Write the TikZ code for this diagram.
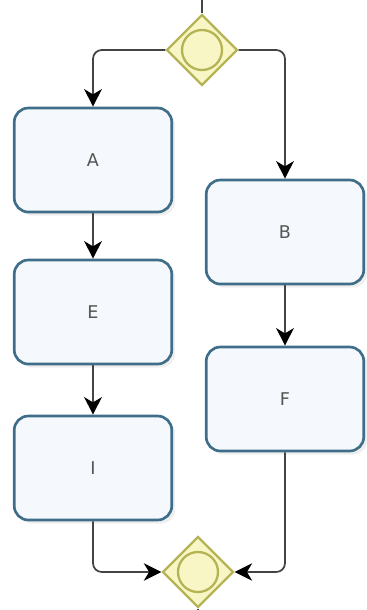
\documentclass[tikz,border=0pt]{standalone}
\usepackage{fontspec}
\setmainfont{DejaVu Sans}
\usetikzlibrary{shapes.geometric,arrows.meta,shadows}
\definecolor{taskline}{HTML}{3E6E8A}
\definecolor{taskfill}{HTML}{F5F8FC}
\definecolor{gateline}{HTML}{B5B455}
\definecolor{gatefill}{HTML}{F8F6C4}
\definecolor{flowline}{HTML}{444444}
\definecolor{labeltext}{HTML}{555555}
\tikzset{
  taskbox/.style={rectangle, rounded corners=8pt, draw=taskline, line width=1.5pt,
    fill=taskfill, minimum width=3.15cm, minimum height=2.08cm,
    text=labeltext, font=\fontsize{10}{11}\selectfont,
    drop shadow={opacity=0.12, shadow xshift=2pt, shadow yshift=-2pt}},
  gateway/.style={diamond, aspect=1, draw=gateline, line width=1.3pt, fill=gatefill,
    minimum width=1.42cm, minimum height=1.42cm, inner sep=0pt},
  gatering/.style={circle, draw=gateline, line width=1.3pt, minimum size=0.8cm, inner sep=0pt},
  flow/.style={draw=flowline, line width=1pt, rounded corners=5pt,
    -{Stealth[length=10pt,width=10pt,inset=3pt,black]}},
  plainflow/.style={draw=flowline, line width=1pt}
}
\begin{document}
\begin{tikzpicture}[x=0.02cm,y=-0.02cm]
\useasboundingbox[fill=white] (0,0) rectangle (367,610);

% exclusive gateways
\node[gateway] (g1) at (202,50) {};
\node[gatering] (r1) at (g1.center) {};
\node[gateway] (g2) at (198,572) {};
\node[gatering] (r2) at (g2.center) {};

% tasks
\node[taskbox] (A) at (93,160) {A};
\node[taskbox] (E) at (93,312) {E};
\node[taskbox] (I) at (93,468) {I};
\node[taskbox] (B) at (285,232) {B};
\node[taskbox] (F) at (285,399) {F};

% loose ends of the incoming and outgoing flows
\coordinate (in) at (202,0);
\coordinate (out) at (198,610);

% sequence flows
\draw[plainflow] (in) -- (g1.north);
\draw[flow] (g1.west) -| (A.north);
\draw[flow] (g1.east) -| (B.north);
\draw[flow] (A.south) -- (E.north);
\draw[flow] (E.south) -- (I.north);
\draw[flow] (B.south) -- (F.north);
\draw[flow] (I.south) |- (g2.west);
\draw[flow] (F.south) |- (g2.east);
\draw[plainflow] (g2.south) -- (out);
\end{tikzpicture}
\end{document}
